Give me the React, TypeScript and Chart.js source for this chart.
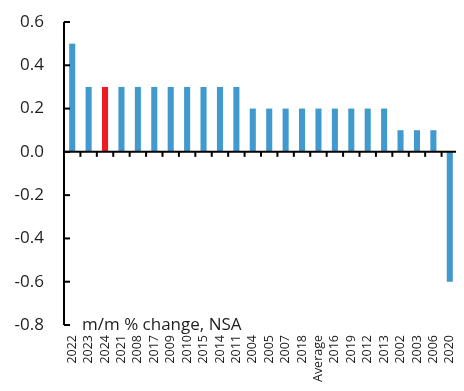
import React, { useEffect, useRef } from "react";
import { Chart, registerables } from "chart.js";

Chart.register(...registerables);

const categories = ["2022", "2023", "2024", "2021", "2008", "2017", "2009", "2010", "2015", "2014", "2011", "2004", "2005", "2007", "2018", "Average", "2016", "2019", "2012", "2013", "2002", "2003", "2006", "2020"];
const values = [0.5, 0.3, 0.3, 0.3, 0.3, 0.3, 0.3, 0.3, 0.3, 0.3, 0.3, 0.2, 0.2, 0.2, 0.2, 0.2, 0.2, 0.2, 0.2, 0.2, 0.1, 0.1, 0.1, -0.6];
const highlight = "2024";
const unitLabel = "m/m % change, NSA";
const yMin = -0.8;
const yMax = 0.6;

const BLUE = "#409ACD";
const RED = "#ED1C24";
const FONT = "'Open Sans', 'DejaVu Sans', sans-serif";

const axesPlugin = {
  id: "customAxes",
  afterDraw(chart: any) {
    const { ctx, chartArea, scales } = chart;
    const x = scales.x;
    const y = scales.y;
    const y0 = y.getPixelForValue(0);
    ctx.save();
    ctx.strokeStyle = "#000";
    ctx.lineWidth = 2;
    ctx.beginPath();
    ctx.moveTo(chartArea.left, chartArea.top);
    ctx.lineTo(chartArea.left, chartArea.bottom);
    ctx.stroke();
    y.ticks.forEach((t: any) => {
      const py = y.getPixelForValue(t.value);
      ctx.beginPath();
      ctx.moveTo(chartArea.left, py);
      ctx.lineTo(chartArea.left + 6, py);
      ctx.stroke();
    });
    ctx.beginPath();
    ctx.moveTo(chartArea.left, y0);
    ctx.lineTo(chartArea.right, y0);
    ctx.stroke();
    const n = categories.length;
    for (let i = 1; i <= n; i++) {
      const px = i < n ? (x.getPixelForValue(i - 1) + x.getPixelForValue(i)) / 2 : chartArea.right;
      ctx.beginPath();
      ctx.moveTo(px, y0);
      ctx.lineTo(px, y0 + 5);
      ctx.stroke();
    }
    ctx.fillStyle = "#1e1e1e";
    ctx.font = "17px " + FONT;
    ctx.textAlign = "left";
    ctx.textBaseline = "alphabetic";
    ctx.fillText(unitLabel, chartArea.left + 18, chartArea.bottom + 5);
    ctx.restore();
  },
};

export default function App() {
  const ref = useRef<HTMLCanvasElement>(null);
  useEffect(() => {
    if (!ref.current) return;
    const chart = new Chart(ref.current, {
      type: "bar",
      data: {
        labels: categories,
        datasets: [
          {
            data: values,
            backgroundColor: categories.map((c) => (c === highlight ? RED : BLUE)),
            barPercentage: 0.37,
            categoryPercentage: 1,
          },
        ],
      },
      options: {
        responsive: false,
        animation: false,
        layout: { padding: { top: 14, right: 0, left: 0, bottom: 0 } },
        plugins: { legend: { display: false }, tooltip: { enabled: false } },
        scales: {
          x: {
            position: "bottom",
            grid: { display: false, drawTicks: false },
            border: { display: false },
            ticks: {
              autoSkip: false,
              maxRotation: 90,
              minRotation: 90,
              padding: 10,
              color: "#1e1e1e",
              font: { family: FONT, size: 12.5 },
            },
            afterFit(scale: any) {
              scale.height = 58;
              scale.paddingLeft = 0;
              scale.paddingRight = 0;
            },
          },
          y: {
            min: yMin,
            max: yMax,
            grid: { display: false, drawTicks: false },
            border: { display: false },
            ticks: {
              stepSize: 0.2,
              padding: 20,
              color: "#1e1e1e",
              font: { family: FONT, size: 17 },
              callback: (v: any) => {
                const n = Number(v);
                return (Math.abs(n) < 1e-9 ? 0 : n).toFixed(1);
              },
            },
            afterFit(scale: any) {
              scale.width = 56;
              scale.paddingTop = 0;
              scale.paddingBottom = 0;
            },
          },
        },
      },
      plugins: [axesPlugin],
    });
    return () => chart.destroy();
  }, []);
  return <canvas ref={ref} width={450} height={375} style={{ display: "block" }} />;
}
